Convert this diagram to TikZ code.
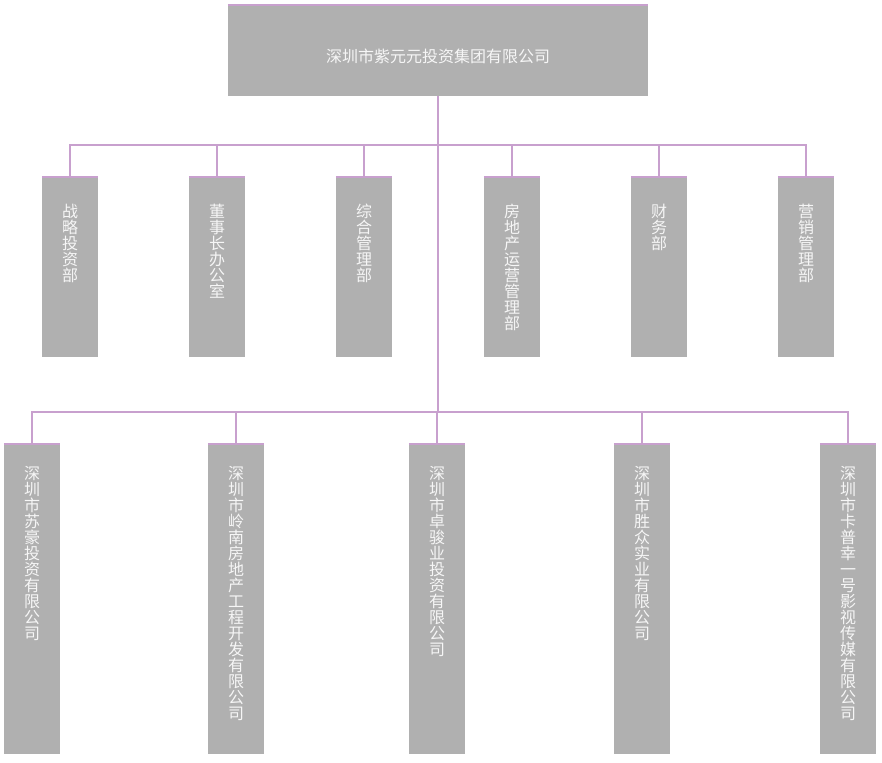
\documentclass[tikz,border=0pt]{standalone}
\usepackage{fontspec}
\setmainfont{Noto Sans CJK SC}
\definecolor{linkpurple}{RGB}{200,160,206}
\definecolor{boxgray}{RGB}{176,176,176}
\definecolor{inkwhite}{RGB}{246,246,246}

\begin{document}
\begin{tikzpicture}[x=1pt,y=-1pt,
    link/.style={draw=linkpurple, line width=2pt},
    unit/.style={fill=boxgray, inner sep=0pt, minimum width=56pt, anchor=north},
    dept/.style={unit, minimum height=180pt},
    firm/.style={unit, minimum height=310pt},
    unitname/.style={text=inkwhite, align=center, inner sep=0pt,
      font=\fontsize{16pt}{16pt}\selectfont},
    headname/.style={unitname, yshift=-6pt},
    deptname/.style={unitname, anchor=north, yshift=-27pt},
    firmname/.style={unitname, anchor=north, yshift=-22pt}]
  \useasboundingbox (0,0) rectangle (882,762);
  % head office
  \node (hq) at (438,5) [unit, minimum width=420pt, minimum height=91pt,
    label={[headname]center:深圳市紫元元投资集团有限公司}] {};
  % departments
  \node (d1) at (70,177)  [dept, label={[deptname]north:战\\略\\投\\资\\部}] {};
  \node (d2) at (217,177) [dept, label={[deptname]north:董\\事\\长\\办\\公\\室}] {};
  \node (d3) at (364,177) [dept, label={[deptname]north:综\\合\\管\\理\\部}] {};
  \node (d4) at (512,177) [dept, label={[deptname]north:房\\地\\产\\运\\营\\管\\理\\部}] {};
  \node (d5) at (659,177) [dept, label={[deptname]north:财\\务\\部}] {};
  \node (d6) at (806,177) [dept, label={[deptname]north:营\\销\\管\\理\\部}] {};
  % subsidiaries
  \node (f1) at (32,444)  [firm, label={[firmname]north:深\\圳\\市\\苏\\豪\\投\\资\\有\\限\\公\\司}] {};
  \node (f2) at (236,444) [firm, label={[firmname]north:深\\圳\\市\\岭\\南\\房\\地\\产\\工\\程\\开\\发\\有\\限\\公\\司}] {};
  \node (f3) at (437,444) [firm, label={[firmname]north:深\\圳\\市\\卓\\骏\\业\\投\\资\\有\\限\\公\\司}] {};
  \node (f4) at (642,444) [firm, label={[firmname]north:深\\圳\\市\\胜\\众\\实\\业\\有\\限\\公\\司}] {};
  \node (f5) at (848,444) [firm, label={[firmname]north:深\\圳\\市\\卡\\普\\幸\\一\\号\\影\\视\\传\\媒\\有\\限\\公\\司}] {};
  \coordinate (upper) at (438,145);
  \coordinate (lower) at (438,412);
  \draw[link] (hq.south) -- (lower);
  \draw[link] (d1.north) |- (upper) -| (d6.north);
  \draw[link] (f1.north) |- (lower) -| (f5.north);
  \foreach \b in {d2,d3,d4,d5}
    \draw[link] (\b.north) -- (\b.north |- upper);
  \foreach \b in {f2,f3,f4}
    \draw[link] (\b.north) -- (\b.north |- lower);
  \foreach \b in {hq,d1,d2,d3,d4,d5,d6,f1,f2,f3,f4,f5}
    \draw[link] (\b.north west) -- (\b.north east);
\end{tikzpicture}
\end{document}
